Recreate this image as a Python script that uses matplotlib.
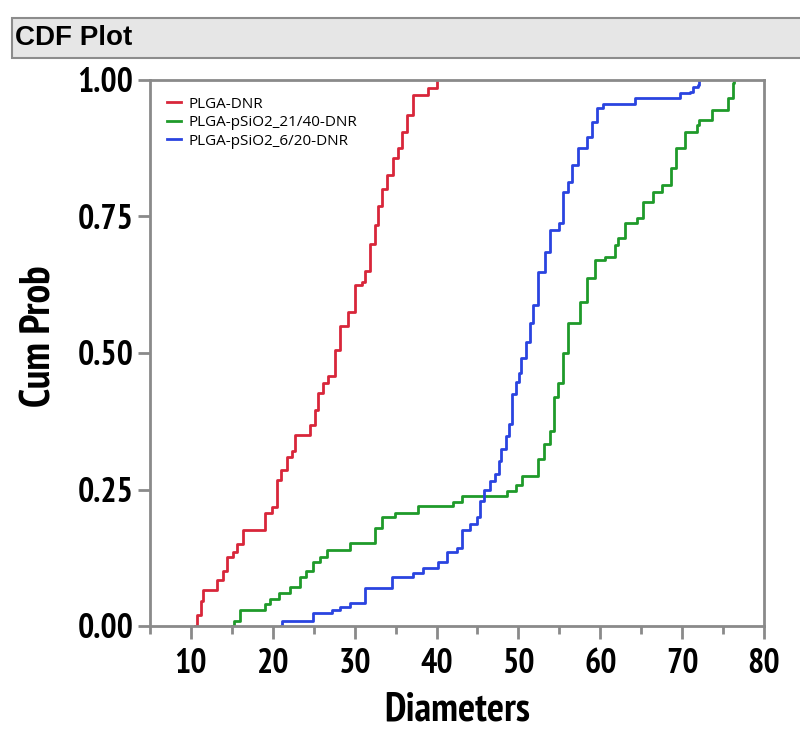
import matplotlib
matplotlib.use('Agg')
import matplotlib.pyplot as plt
from matplotlib.patches import Rectangle
from matplotlib.ticker import MultipleLocator
from matplotlib import font_manager

# step vertices (diameter, cumulative probability)
red_x = [10.5, 10.8, 11.2, 11.5, 13.2, 13.9, 14.4, 15.1, 15.6, 16.4, 19.0, 19.9, 20.5, 21.0,
         21.7, 22.3, 22.7, 24.5, 25.1, 25.5, 26.1, 26.7, 27.6, 28.2, 29.2, 30.0, 30.9, 31.3,
         31.9, 32.5, 32.8, 33.3, 33.9, 34.7, 35.3, 35.8, 36.4, 37.1, 38.9, 40.0, 40.1]
red_y = [0.0, 0.02, 0.045, 0.066, 0.084, 0.10, 0.127, 0.135, 0.15, 0.176, 0.207, 0.218, 0.267, 0.285,
         0.31, 0.32, 0.35, 0.368, 0.395, 0.427, 0.445, 0.457, 0.505, 0.55, 0.575, 0.625, 0.63, 0.65,
         0.70, 0.735, 0.77, 0.80, 0.826, 0.857, 0.875, 0.905, 0.935, 0.973, 0.985, 0.99, 1.0]

green_x = [15.0, 15.3, 16.0, 19.0, 19.7, 20.7, 22.1, 23.3, 24.1, 24.9, 25.8, 26.6, 29.4, 32.5,
           33.3, 34.9, 37.7, 42.0, 43.1, 48.6, 49.7, 50.4, 52.4, 53.1, 53.9, 54.3, 54.8, 55.4,
           56.0, 57.5, 58.4, 59.3, 60.6, 61.8, 62.2, 63.0, 64.5, 65.2, 66.4, 67.5, 68.7, 69.3,
           70.3, 71.8, 72.1, 73.6, 75.6, 76.2, 76.3]
green_y = [0.0, 0.01, 0.03, 0.04, 0.05, 0.06, 0.072, 0.09, 0.10, 0.117, 0.126, 0.139, 0.152, 0.18,
           0.20, 0.207, 0.22, 0.228, 0.238, 0.247, 0.258, 0.274, 0.305, 0.333, 0.357, 0.42, 0.445, 0.50,
           0.555, 0.593, 0.637, 0.67, 0.676, 0.698, 0.71, 0.738, 0.747, 0.777, 0.795, 0.808, 0.839, 0.875,
           0.905, 0.918, 0.927, 0.945, 0.967, 0.995, 1.0]

blue_x = [21.0, 21.1, 24.9, 27.2, 28.2, 29.4, 31.3, 34.5, 37.1, 38.3, 40.2, 41.3, 42.5, 43.1,
          44.1, 44.9, 45.3, 45.8, 46.5, 47.2, 47.6, 47.9, 48.5, 48.8, 49.2, 49.7, 50.1, 50.3,
          50.9, 51.4, 51.8, 52.4, 53.2, 53.8, 55.0, 55.4, 56.0, 56.6, 57.3, 58.4, 59.0, 59.6,
          60.3, 64.2, 69.7, 70.9, 71.3, 71.9, 72.1]
blue_y = [0.0, 0.009, 0.023, 0.03, 0.035, 0.042, 0.07, 0.09, 0.097, 0.106, 0.117, 0.135, 0.142, 0.176,
          0.187, 0.20, 0.229, 0.249, 0.266, 0.278, 0.302, 0.324, 0.348, 0.37, 0.425, 0.447, 0.463, 0.49,
          0.52, 0.555, 0.588, 0.648, 0.685, 0.725, 0.738, 0.795, 0.813, 0.844, 0.875, 0.896, 0.923, 0.949,
          0.956, 0.967, 0.976, 0.978, 0.987, 0.99, 1.0]

labels = ['PLGA-DNR', 'PLGA-pSiO2_21/40-DNR', 'PLGA-pSiO2_6/20-DNR']
colors = ['#d8263a', '#1f9a2a', '#2a44e0']
yticks = [0, 0.25, 0.5, 0.75, 1.0]
ytick_labels = ['0.00', '0.25', '0.50', '0.75', '1.00']

# want a condensed sans that really has a bold face (Arial Narrow Bold look-alike)
bold_names = set(f.name for f in font_manager.fontManager.ttflist
                 if isinstance(f.weight, int) and f.weight >= 700 or f.weight == 'bold')
narrow = [n for n in ['Liberation Sans Narrow', 'Arial Narrow', 'Archivo Narrow', 'PT Sans Narrow',
                      'Roboto Condensed', 'Pragati Narrow', 'Encode Sans Condensed',
                      'Sofia Sans Condensed', 'IBM Plex Sans Condensed', 'Open Sans Condensed',
                      'Liberation Sans'] if n in bold_names][:1] + ['DejaVu Sans']

fig = plt.figure(figsize=(8, 7.32), dpi=100)
fig.patch.set_facecolor('white')

# title band
fig.patches.append(Rectangle((12 / 800, 1 - 58 / 732), 1, 40 / 732, transform=fig.transFigure,
                             facecolor='#e6e6e6', edgecolor='#8c8c8c', linewidth=1.5, zorder=0))
fig.text(15 / 800, 1 - 38 / 732, 'CDF Plot', fontsize=20, fontweight='bold',
         family=['Liberation Sans', 'DejaVu Sans'], va='center', ha='left')

ax = fig.add_axes([150 / 800, 106 / 732, 614 / 800, 546 / 732])

for xs, ys, c, lab in zip([red_x, green_x, blue_x], [red_y, green_y, blue_y], colors, labels):
    ax.plot(xs, ys, drawstyle='steps-post', color=c, lw=2.0, label=lab)

ax.set_xlim(5, 80)
ax.set_ylim(0, 1)
ax.xaxis.set_major_locator(MultipleLocator(10))
ax.xaxis.set_minor_locator(MultipleLocator(5))
ax.set_yticks(yticks)
ax.set_yticklabels(ytick_labels)

for s in ax.spines.values():
    s.set_color('#8a8a8a')
    s.set_linewidth(2)

ax.tick_params(axis='both', which='major', length=9, width=2, color='#8a8a8a', pad=3)
ax.tick_params(axis='x', which='minor', length=6, width=2, color='#8a8a8a')
ax.tick_params(axis='x', pad=7)
for t in ax.get_xticklabels() + ax.get_yticklabels():
    t.set_family(narrow)
    t.set_fontweight('bold')
    t.set_fontsize(24.5)

ax.set_xlabel('Diameters', fontsize=29, fontweight='bold', family=narrow, labelpad=8)
ax.set_ylabel('Cum Prob', fontsize=30, fontweight='bold', family=narrow)
ax.yaxis.set_label_coords(-0.147, 0.53)

ax.legend(loc='upper left', frameon=False, handlelength=0.9,
          handletextpad=0.5, labelspacing=0.22, borderaxespad=0.7,
          prop={'family': ['Open Sans', 'DejaVu Sans'], 'size': 11})

fig.savefig('out.png', dpi=100)
